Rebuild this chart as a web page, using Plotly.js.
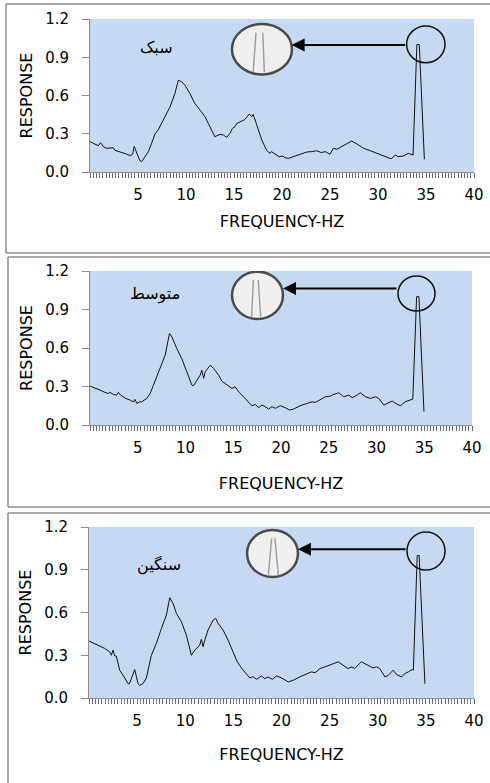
<!DOCTYPE html>
<html><head><meta charset="utf-8">
<script src="https://cdn.plot.ly/plotly-3.0.1.min.js"></script>
<style>html,body{margin:0;padding:0;background:#fff;overflow:hidden}#chart{width:490px;height:783px}</style>
</head><body><div id="chart"></div>
<script>
// ---------- data ----------
const panelNames = ['سبک', 'متوسط', 'سنگین'];
const xTickVals = [5, 10, 15, 20, 25, 30, 35, 40];
const xTickText = ['5', '10', '15', '20', '25', '30', '35', '40'];
const yTickVals = [0, 0.3, 0.6, 0.9, 1.2];
const yTickText = ['0.0', '0.3', '0.6', '0.9', '1.2'];
const xTitle = 'FREQUENCY-HZ';
const yTitle = 'RESPONSE';

const freqLight = [0, 0.52, 0.87, 1.1, 1.39, 1.74, 2.43, 2.6, 3.1, 3.8, 4.2, 4.44, 4.6, 4.86, 5.2, 5.38, 5.73, 6.08, 6.42, 6.77, 7.1, 7.64, 8.33, 8.85, 9.2, 9.55, 9.9, 10.4, 10.9, 11.46, 11.98, 12.33, 12.85, 13.0, 13.54, 13.9, 14.24, 14.58, 14.83, 15.1, 15.28, 15.6, 16.1, 16.6, 16.84, 17.0, 17.19, 17.5, 17.9, 18.4, 18.75, 18.9, 19.44, 19.7, 20.1, 20.3, 20.66, 21.2, 21.9, 22.6, 23.1, 23.6, 24.1, 24.5, 25.0, 25.35, 25.7, 26.2, 26.7, 27.26, 27.8, 28.5, 29.2, 29.86, 30.56, 31.25, 31.4, 31.8, 32.1, 32.6, 33.16, 33.65, 34.05, 34.3, 34.83];
const respLight = [0.238, 0.22, 0.206, 0.23, 0.199, 0.186, 0.19, 0.17, 0.16, 0.141, 0.128, 0.14, 0.20, 0.146, 0.089, 0.081, 0.12, 0.16, 0.225, 0.30, 0.33, 0.41, 0.51, 0.617, 0.72, 0.708, 0.68, 0.617, 0.54, 0.486, 0.434, 0.38, 0.29, 0.277, 0.295, 0.29, 0.272, 0.303, 0.342, 0.355, 0.38, 0.39, 0.41, 0.455, 0.434, 0.452, 0.41, 0.33, 0.25, 0.17, 0.146, 0.16, 0.133, 0.12, 0.125, 0.112, 0.107, 0.12, 0.139, 0.157, 0.16, 0.167, 0.152, 0.16, 0.139, 0.186, 0.178, 0.2, 0.22, 0.243, 0.22, 0.186, 0.167, 0.146, 0.13, 0.107, 0.105, 0.133, 0.12, 0.125, 0.146, 0.133, 1.0, 1.0, 0.1];

const freqMedium = [0, 0.52, 1.05, 1.57, 1.92, 2.1, 2.45, 2.8, 2.97, 3.2, 3.67, 4.2, 4.55, 4.7, 4.9, 5.17, 5.4, 5.94, 6.3, 6.64, 7.0, 7.5, 7.87, 8.32, 8.57, 9.09, 9.6, 10.14, 10.66, 10.84, 11.19, 11.54, 11.7, 11.9, 12.06, 12.6, 12.94, 13.46, 13.8, 14.34, 14.86, 15.2, 15.56, 16.08, 16.6, 16.96, 17.3, 17.66, 18.0, 18.36, 18.7, 19.06, 19.4, 19.93, 20.45, 20.9, 21.3, 22.0, 22.7, 23.25, 23.6, 24.1, 24.65, 25.17, 25.5, 26.05, 26.57, 27.1, 27.45, 27.97, 28.3, 28.85, 29.37, 29.9, 30.24, 30.77, 31.1, 31.64, 32.0, 32.5, 33.0, 33.4, 33.8, 34.2, 34.44, 34.97];
const respMedium = [0.303, 0.29, 0.272, 0.254, 0.246, 0.254, 0.238, 0.233, 0.254, 0.233, 0.21, 0.194, 0.18, 0.2, 0.168, 0.18, 0.18, 0.207, 0.246, 0.31, 0.376, 0.467, 0.544, 0.713, 0.687, 0.596, 0.518, 0.415, 0.311, 0.306, 0.35, 0.389, 0.428, 0.363, 0.415, 0.467, 0.44, 0.389, 0.342, 0.311, 0.285, 0.298, 0.259, 0.22, 0.181, 0.15, 0.16, 0.135, 0.155, 0.143, 0.124, 0.143, 0.13, 0.15, 0.135, 0.117, 0.124, 0.15, 0.168, 0.18, 0.176, 0.2, 0.22, 0.225, 0.238, 0.251, 0.22, 0.233, 0.213, 0.233, 0.251, 0.22, 0.207, 0.22, 0.207, 0.155, 0.168, 0.187, 0.168, 0.15, 0.181, 0.19, 0.202, 1.0, 1.0, 0.104];

const freqHeavy = [0, 0.59, 1.1, 1.63, 2.15, 2.32, 2.5, 2.67, 2.84, 3.0, 3.19, 3.54, 4.06, 4.2, 4.75, 5.1, 5.27, 5.6, 5.96, 6.48, 7.0, 7.52, 8.04, 8.39, 8.73, 9.08, 9.6, 10.12, 10.64, 10.99, 11.5, 11.68, 11.85, 12.03, 12.37, 12.9, 13.17, 13.41, 13.93, 14.45, 14.97, 15.4, 15.84, 16.36, 16.7, 17.05, 17.4, 17.92, 18.27, 18.6, 19.06, 19.48, 20.0, 20.7, 21.2, 21.9, 22.6, 23.1, 23.5, 24.0, 24.5, 25.0, 25.55, 25.9, 26.4, 26.9, 27.3, 27.6, 28.3, 28.84, 29.5, 29.9, 30.2, 30.75, 31.1, 31.6, 31.96, 32.48, 32.8, 33.17, 33.59, 33.7, 34.1, 34.3, 34.9];
const respHeavy = [0.40, 0.383, 0.364, 0.348, 0.324, 0.30, 0.336, 0.296, 0.294, 0.254, 0.195, 0.16, 0.10, 0.10, 0.2, 0.10, 0.089, 0.10, 0.14, 0.30, 0.383, 0.488, 0.582, 0.704, 0.664, 0.594, 0.535, 0.44, 0.30, 0.336, 0.37, 0.413, 0.36, 0.406, 0.477, 0.547, 0.559, 0.524, 0.477, 0.406, 0.324, 0.254, 0.211, 0.164, 0.141, 0.15, 0.131, 0.155, 0.136, 0.148, 0.131, 0.155, 0.141, 0.113, 0.124, 0.148, 0.171, 0.183, 0.178, 0.207, 0.218, 0.23, 0.242, 0.254, 0.23, 0.207, 0.218, 0.207, 0.254, 0.235, 0.211, 0.218, 0.207, 0.148, 0.16, 0.195, 0.164, 0.148, 0.171, 0.183, 0.2, 0.195, 1.0, 1.0, 0.10];

const seriesFreq = [freqLight, freqMedium, freqHeavy];
const seriesResp = [respLight, respMedium, respHeavy];

// ---------- axis ticks: fine tick marks every 1/3 Hz, labels only at the listed values ----------
const fineTickVals = [], fineTickText = [];
for (let k = 0; k <= 120; k++) {
  const v = k / 3;
  fineTickVals.push(v);
  const idx = xTickVals.findIndex(t => Math.abs(t - v) < 1e-6);
  fineTickText.push(idx >= 0 ? xTickText[idx] : '');
}

// ---------- layout geometry (pixels) ----------
const W = 490, H = 783;
const PX = x => x / W, PY = y => 1 - y / H;
const boxes = [ {l: 90, r: 474, t: 19, b: 172}, {l: 90, r: 472, t: 271, b: 425}, {l: 89, r: 474, t: 527, b: 698} ];
const frames = [ {l: 6, t: 4, b: 253}, {l: 8, t: 257, b: 507}, {l: 8, t: 513, b: 800} ];
const xTitleStandoff = [12, 21, 19];
const labelPos = [ {x: 6.9, y: 0.98}, {x: 6.8, y: 1.02}, {x: 7.3, y: 0.935} ];
const mags = [
  {big: [14.79, 21.04, 0.765, 1.161], small: [32.98, 36.98, 0.857, 1.145], arrowY: 0.996, tip: 21.0, tail: 32.98,
   lines: [[17.0, 0.784, 17.29, 1.093], [18.16, 0.784, 18.0, 1.093]]},
  {big: [14.87, 20.21, 0.826, 1.195], small: [32.25, 36.13, 0.888, 1.161], arrowY: 1.064, tip: 20.21, tail: 32.25,
   lines: [[16.93, 0.844, 17.1, 1.13], [17.87, 0.844, 17.62, 1.13]]},
  {big: [16.42, 21.71, 0.849, 1.179], small: [33.04, 36.99, 0.898, 1.165], arrowY: 1.044, tip: 21.71, tail: 33.04,
   lines: [[18.63, 0.863, 18.98, 1.121], [19.67, 0.863, 19.32, 1.121]]}
];

const FONT = 'DejaVu Sans, Open Sans, sans-serif';
const axisGray = '#8c8c8c';
const tickGray = '#6a6a6a';
const frameGray = '#8c8c8c';

const traces = [];
const layout = {
  width: W, height: H, margin: {l: 0, r: 0, t: 0, b: 0},
  paper_bgcolor: '#ffffff', plot_bgcolor: '#c6d9f1',
  showlegend: false, shapes: [], annotations: [],
  font: {family: FONT, color: '#000'}
};

for (let i = 0; i < 3; i++) {
  const n = i === 0 ? '' : String(i + 1);
  const xa = 'x' + n, ya = 'y' + n;
  traces.push({
    x: seriesFreq[i], y: seriesResp[i], xaxis: xa, yaxis: ya,
    type: 'scatter', mode: 'lines', name: panelNames[i],
    line: {color: '#111111', width: 1}, hoverinfo: 'x+y'
  });
  const b = boxes[i];
  layout['xaxis' + n] = {
    domain: [PX(b.l), PX(b.r)], anchor: ya, range: [0, 40],
    tickmode: 'array', tickvals: fineTickVals, ticktext: fineTickText,
    showgrid: false, zeroline: false, showline: true, linecolor: axisGray, linewidth: 1,
    ticks: 'outside', ticklen: 5, tickcolor: tickGray, tickwidth: 1,
    tickfont: {family: FONT, size: 15, color: '#000'}, ticklabelstandoff: 4,
    title: {text: xTitle, font: {family: FONT, size: 16, color: '#000'}, standoff: xTitleStandoff[i]},
    fixedrange: true
  };
  layout['yaxis' + n] = {
    domain: [PY(b.b), PY(b.t)], anchor: xa, range: [0, 1.2],
    tickmode: 'array', tickvals: yTickVals, ticktext: yTickText,
    showgrid: false, zeroline: false, showline: true, linecolor: axisGray, linewidth: 1,
    ticks: 'outside', ticklen: 7, tickcolor: axisGray, tickwidth: 1,
    tickfont: {family: FONT, size: 15, color: '#000'}, ticklabelstandoff: 10,
    title: {text: yTitle, font: {family: FONT, size: 16, color: '#000'}, standoff: 8},
    fixedrange: true
  };
  const f = frames[i];
  const fl = {color: frameGray, width: 1.5};
  layout.shapes.push({type: 'line', xref: 'paper', yref: 'paper', x0: PX(f.l), x1: PX(f.l), y0: PY(f.b), y1: PY(f.t), line: fl, layer: 'below'});
  layout.shapes.push({type: 'line', xref: 'paper', yref: 'paper', x0: PX(f.l), x1: 1.0, y0: PY(f.t), y1: PY(f.t), line: fl, layer: 'below'});
  layout.shapes.push({type: 'line', xref: 'paper', yref: 'paper', x0: PX(f.l), x1: 1.0, y0: PY(f.b), y1: PY(f.b), line: fl, layer: 'below'});
  const m = mags[i];
  layout.shapes.push({type: 'circle', xref: xa, yref: ya, x0: m.big[0], x1: m.big[1], y0: m.big[2], y1: m.big[3],
    line: {color: '#4a4a4a', width: 2.5}, fillcolor: '#efefef'});
  m.lines.forEach(l => layout.shapes.push({type: 'line', xref: xa, yref: ya, x0: l[0], y0: l[1], x1: l[2], y1: l[3],
    line: {color: '#a0a0a0', width: 1.5}}));
  layout.shapes.push({type: 'circle', xref: xa, yref: ya, x0: m.small[0], x1: m.small[1], y0: m.small[2], y1: m.small[3],
    line: {color: '#111', width: 1.5}, fillcolor: 'rgba(0,0,0,0)'});
  layout.annotations.push({xref: xa, yref: ya, axref: xa, ayref: ya, x: m.tip, y: m.arrowY, ax: m.tail, ay: m.arrowY,
    text: '', showarrow: true, arrowhead: 2, arrowsize: 1.3, arrowwidth: 2, arrowcolor: '#000', standoff: 0, startstandoff: 0});
  layout.annotations.push({xref: xa, yref: ya, x: labelPos[i].x, y: labelPos[i].y, text: panelNames[i],
    showarrow: false, font: {family: 'DejaVu Sans, Noto Sans, sans-serif', size: 16, color: '#000'}});
}

Plotly.newPlot('chart', traces, layout, {staticPlot: true, displayModeBar: false});
</script>
</body></html>
